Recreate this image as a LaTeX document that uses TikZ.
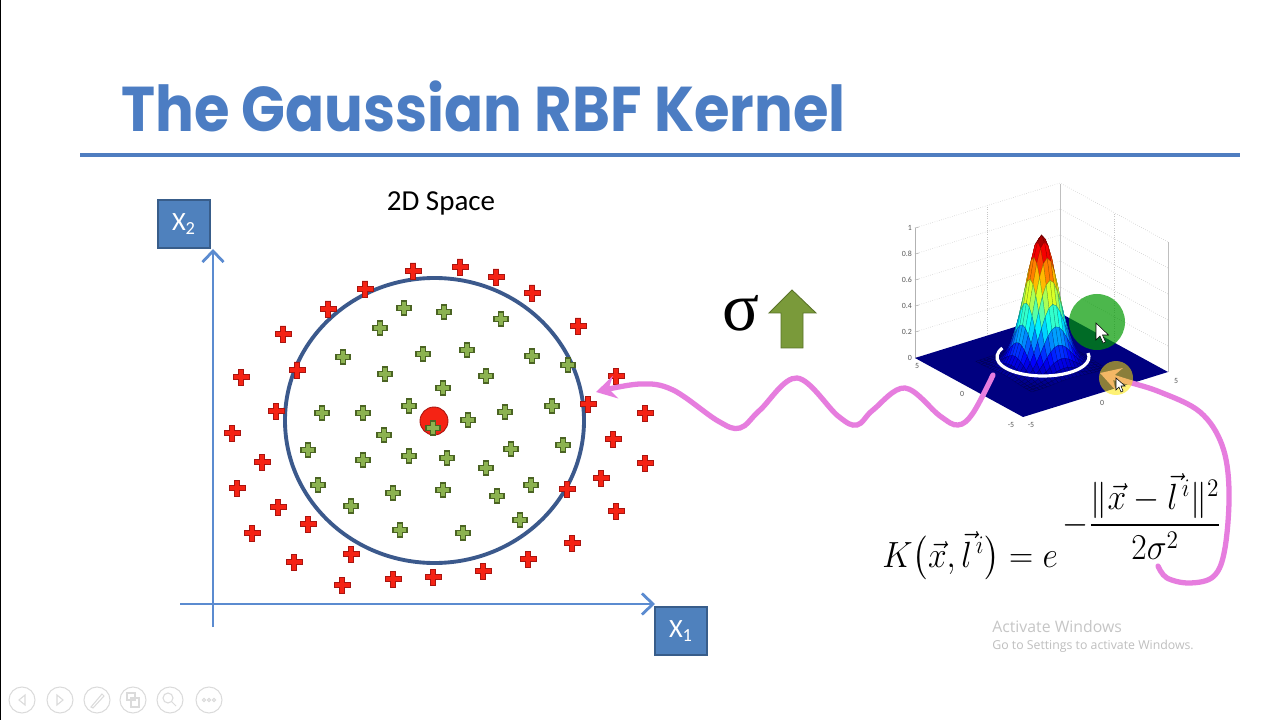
\documentclass[tikz,border=0pt]{standalone}
\usepackage{amsmath}
\usepackage{fontspec}
\setsansfont{Carlito}
\newfontfamily\titlefont{Poppins}
\newfontfamily\sigmafont{Liberation Serif}
\newfontfamily\winfont{Open Sans}
\usetikzlibrary{arrows.meta,positioning,calc,shapes.geometric}

\definecolor{axisblue}{RGB}{91,139,208}
\definecolor{boxblue}{RGB}{79,129,189}
\definecolor{boxedge}{RGB}{56,93,138}
\definecolor{ringblue}{RGB}{59,89,140}
\definecolor{titleblue}{RGB}{76,125,195}
\definecolor{ruleblue}{RGB}{79,125,192}
\definecolor{plusred}{RGB}{245,35,20}
\definecolor{plusredline}{RGB}{170,20,15}
\definecolor{plusgreen}{RGB}{140,178,80}
\definecolor{plusgreenline}{RGB}{75,100,35}
\definecolor{arrowgreen}{RGB}{122,154,58}
\definecolor{arrowgreenline}{RGB}{90,115,40}
\definecolor{pinkline}{RGB}{230,125,222}
\definecolor{floornavy}{RGB}{0,0,128}

\tikzset{
  pics/cross/.style 2 args={code={
    \path[pic actions] (-#2,-#1) -- (#2,-#1) -- (#2,-#2) -- (#1,-#2) -- (#1,#2)
      -- (#2,#2) -- (#2,#1) -- (-#2,#1) -- (-#2,#2) -- (-#1,#2) -- (-#1,-#2)
      -- (-#2,-#2) -- cycle;}}
}

\begin{document}
\begin{tikzpicture}[x=0.2mm,y=-0.2mm,
  font=\sffamily,
  axis/.style={draw=axisblue,line width=1.6pt,-{Straight Barb[length=2.2mm,width=4.2mm]}},
  xlabel/.style={draw=boxedge,fill=boxblue,line width=0.8pt,text=white,inner sep=0pt,
                 minimum width=10.4mm,minimum height=9.6mm,
                 font=\sffamily\fontsize{15}{17}\selectfont},
  redplus/.style={fill=plusred,draw=plusredline,line width=0.4pt},
  greenplus/.style={fill=plusgreen,draw=plusgreenline,line width=0.6pt},
  wave/.style={draw=pinkline,line width=3pt,line cap=round,
               -{Stealth[length=4mm,width=4.6mm,inset=1.4mm]}},
  gridline/.style={draw=gray!45,line width=0.3pt,densely dotted},
  tick/.style={font=\sffamily\fontsize{4.5}{5}\selectfont,text=gray!70!black,inner sep=0.5pt},
  tool/.style={draw=gray!28,line width=0.6pt}]
\useasboundingbox (0,0) rectangle (1280,720);
\fill[white] (0,0) rectangle (1280,720);
\draw[black,line width=0.8pt] (0.5,0) -- (0.5,720);

% title and rule
\node[anchor=base west,inner sep=0pt,text=titleblue] (title) at (121,132)
  {\scalebox{0.91}[1]{\titlefont\bfseries\fontsize{36}{40}\selectfont The Gaussian RBF Kernel}};
\draw[ruleblue,line width=2.2pt] (80,155) -- (1240,155);

% axes
\coordinate (ybot) at (213,627);
\coordinate (ytop) at (213,249);
\coordinate (xleft) at (180,604);
\coordinate (xright) at (655,604);
\draw[axis] (ybot) -- (ytop);
\draw[axis] (xleft) -- (xright);
\node[xlabel] (xtwo) at (184,224) {X\textsubscript{2}};
\node[xlabel] (xone) at (681,631) {X\textsubscript{1}};
\node[font=\sffamily\fontsize{16.5}{18}\selectfont] (space) at (441,203) {2D Space};

% decision boundary and points
\node[draw=ringblue,line width=2.2pt,ellipse,minimum width=59.8mm,minimum height=57mm,
      inner sep=0pt] (bound) at (434.5,420.5) {};
\foreach \px/\py in {413/271,460/267,496/277,365/289,328/309,532/293,578/326,283/334,
    297/370,241/377,616/376,276/411,588/404,645/413,232/433,613/439,262/462,645/463,
    237/488,601/478,567/489,278/507,616/511,308/524,252/533,572/543,351/554,528/559,
    294/562,483/571,433/577,393/579,342/585}
  \pic[redplus] at (\px,\py) {cross={8}{2.8}};
\foreach \px/\py in {404/308,444/312,501/319,380/328,467/350,532/356,343/357,423/354,
    568/365,385/374,486/376,443/388,409/406,552/406,505/412,322/413,363/413,468/420,
    384/435,563/445,308/450,409/456,363/460,511/449,447/458,486/468,318/485,531/485,
    443/490,393/493,497/496,351/506,520/520,400/530,463/533}
  \pic[greenplus] at (\px,\py) {cross={7}{2.4}};
\node[circle,fill=plusred,draw=plusredline,line width=0.5pt,minimum size=5.6mm,inner sep=0pt]
  (landmark) at (434,421) {};
\pic[greenplus] at (433,428) {cross={7}{2.4}};

% sigma up
\node[anchor=base,inner sep=0pt] (sigma) at (741,331)
  {\sigmafont\fontsize{39}{42}\selectfont σ};
\filldraw[fill=arrowgreen,draw=arrowgreenline,line width=0.5pt]
  (792,290) -- (816,313) -- (803,313) -- (803,348) -- (781,348) -- (781,313)
  -- (769,313) -- cycle;

% 3d plot: walls
\foreach \z in {26,52,...,130}
  \draw[gridline] (915,358-\z) -- (1060,313-\z) -- (1168,372-\z);
\draw[gridline] (987.5,335.5) -- ++(0,-130);
\draw[gridline] (1114,342.5) -- ++(0,-130);
\draw[draw=gray!50,line width=0.3pt] (1060,313) -- (1060,184);
\draw[draw=gray!50,line width=0.3pt] (1168,372) -- (1168,242);
\draw[draw=gray!60,line width=0.35pt] (915,358) -- (915,228);
\foreach \z/\t in {0/0,26/0.2,52/0.4,78/0.6,104/0.8,130/1}{
  \draw[gray!60,line width=0.3pt] (915,358-\z) -- (919,357-\z);
  \node[tick,anchor=east] at (913,358-\z) {\t};
}
% floor
\fill[floornavy] (915,358) -- (1023,417) -- (1168,372) -- (1060,313) -- cycle;
\node[tick] at (917,366) {5};
\node[tick] at (962,394) {0};
\node[tick] at (1011,425) {-5};
\node[tick] at (1031,425) {-5};
\node[tick] at (1102,403) {0};
\node[tick] at (1176,381) {5};
% gaussian surface
\foreach \i in {0,...,19}{
  \foreach \j in {19,...,0}{
    \pgfmathsetmacro\ua{-2.6+0.26*\i}
    \pgfmathsetmacro\ub{\ua+0.26}
    \pgfmathsetmacro\va{-2.6+0.26*\j}
    \pgfmathsetmacro\vb{\va+0.26}
    \pgfmathsetmacro\zaa{exp(-((\ua)*(\ua)+(\va)*(\va))/1.62)}
    \pgfmathsetmacro\zba{exp(-((\ub)*(\ub)+(\va)*(\va))/1.62)}
    \pgfmathsetmacro\zbb{exp(-((\ub)*(\ub)+(\vb)*(\vb))/1.62)}
    \pgfmathsetmacro\zab{exp(-((\ua)*(\ua)+(\vb)*(\vb))/1.62)}
    \pgfmathsetmacro\zm{(\zaa+\zba+\zbb+\zab)/4}
    \pgfmathsetmacro\jr{max(0,min(1,1.5-abs(4*\zm-3)))}
    \pgfmathsetmacro\jg{max(0,min(1,1.5-abs(4*\zm-2)))}
    \pgfmathsetmacro\jb{max(0,min(1,1.5-abs(4*\zm-1)))}
    \definecolor{facet}{rgb}{\jr,\jg,\jb}
    \filldraw[fill=facet,draw=facet!60!black,line width=0.15pt]
      ({1041.5+10.8*\ua+14.5*\va},{365+5.9*\ua-4.5*\va-130*\zaa}) --
      ({1041.5+10.8*\ub+14.5*\va},{365+5.9*\ub-4.5*\va-130*\zba}) --
      ({1041.5+10.8*\ub+14.5*\vb},{365+5.9*\ub-4.5*\vb-130*\zbb}) --
      ({1041.5+10.8*\ua+14.5*\vb},{365+5.9*\ua-4.5*\vb-130*\zab}) -- cycle;
  }
}
\draw[white,line width=1.8pt] (1043,357) ++(208:46 and 19)
  arc[start angle=208,end angle=-12,x radius=46,y radius=19];

% formula
\node[anchor=base west,inner sep=0pt] (kernel) at (882,567)
  {\scalebox{0.92}[1]{\fontsize{22}{26}\selectfont
   $K\bigl(\vec{x},\vec{l}^{\,i}\bigr)=e$}};
\node[anchor=base west,inner sep=0pt] (expo) at ([xshift=0.9mm,yshift=6.6mm]kernel.base east)
  {\scalebox{0.92}[1]{\fontsize{20}{24}\selectfont
   $-\dfrac{\|\vec{x}-\vec{l}^{\,i}\|^{2}}{2\sigma^{2}}$}};

% pink annotations
\coordinate (wstart) at (993,375);
\coordinate (wend) at (596,392);
\draw[wave] plot[smooth,tension=0.6] coordinates {(wstart) (973,413) (958,425) (940,416)
  (905,388) (873,410) (857,425) (838,416) (797,378) (760,410) (740,428) (718,421)
  (673,390) (640,384) (wend)};
\coordinate (hstart) at (1158,566);
\coordinate (hend) at (1100,373);
\draw[wave] plot[smooth,tension=0.6] coordinates {(hstart) (1167,578) (1190,583)
  (1214,576) (1225,548) (1229,490) (1222,445) (1200,412) (1160,392) (1125,381) (hend)};

% pointer highlights
\fill[green!60!black,opacity=0.7] (1097,322) circle[radius=28];
\fill[yellow!90!orange,opacity=0.55] (1116,378) circle[radius=17];
\filldraw[fill=white,draw=black,line width=0.3pt] (1096,323) -- ++(0,17) -- ++(4,-4)
  -- ++(3,7) -- ++(2.5,-1) -- ++(-3,-7) -- ++(6,0) -- cycle;
\filldraw[fill=white,draw=black,line width=0.3pt] (1116,378) -- ++(0,12) -- ++(3,-3)
  -- ++(2,5) -- ++(2,-1) -- ++(-2,-5) -- ++(4,0) -- cycle;

% watermark
\node[anchor=base west,inner sep=0pt,text=gray!45,font=\winfont\fontsize{9}{10}\selectfont]
  (activate) at (992,632) {Activate Windows};
\node[anchor=base west,inner sep=0pt,text=gray!50,font=\winfont\fontsize{7}{8}\selectfont]
  (settings) at (992,649) {Go to Settings to activate Windows.};

% slide show toolbar
\foreach \cx in {22,60,97,133,170,209}
  \draw[tool] (\cx,700) circle[radius=13];
\draw[tool] (25,695) -- (19,700) -- (25,705) -- cycle;
\draw[tool] (57,695) -- (63,700) -- (57,705) -- cycle;
\draw[tool] (91,707) -- (102,694) -- (104,696) -- (93,708) -- cycle;
\draw[tool] (127,693) rectangle (135,700) (131,698) rectangle (139,707);
\draw[tool] (168,698) circle[radius=5] (172,702) -- (176,706);
\foreach \dx in {-5,0,5}
  \draw[tool] (209+\dx,700) circle[radius=1.6];
\end{tikzpicture}
\end{document}
